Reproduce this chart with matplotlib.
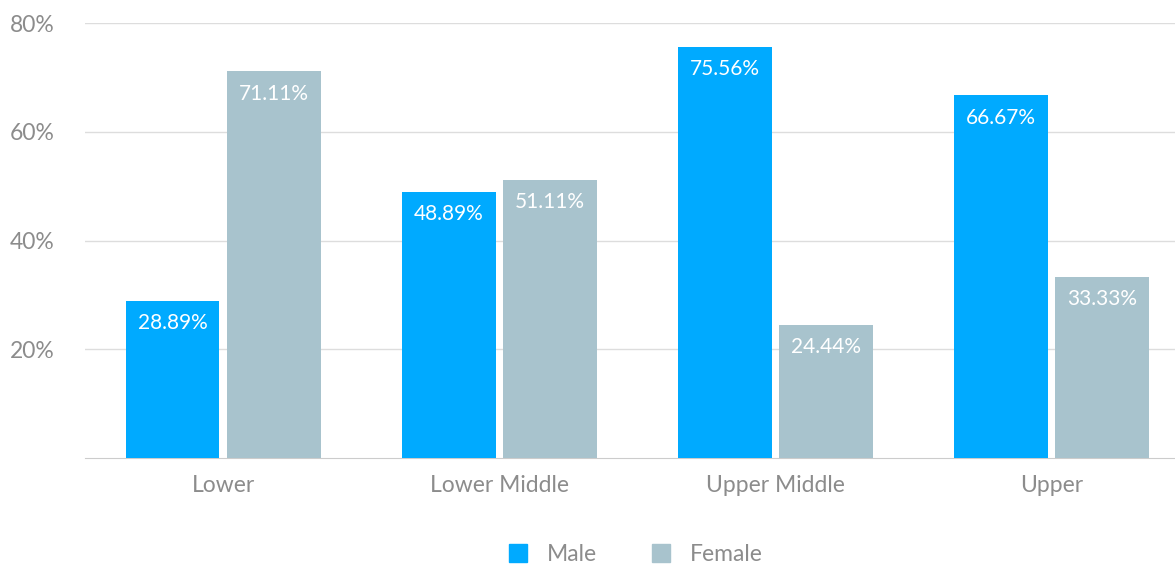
import matplotlib.pyplot as plt
import numpy as np
from matplotlib.patches import Patch

categories = ["Lower", "Lower Middle", "Upper Middle", "Upper"]
male = [28.89, 48.89, 75.56, 66.67]
female = [71.11, 51.11, 24.44, 33.33]
yticks = [20, 40, 60, 80]

MALE_COLOR = "#00AAFF"
FEMALE_COLOR = "#A8C3CD"
TEXT_COLOR = "#8C8C8C"

plt.rcParams["font.family"] = ["Lato", "DejaVu Sans"]

fig = plt.figure(figsize=(11.75, 5.67), dpi=100)
ax = fig.add_axes([85 / 1175, 109 / 567, 1090 / 1175, 435 / 567])

x = np.arange(len(categories))
offset = 0.183
width = 0.34
male_bars = ax.bar(x - offset, male, width, color=MALE_COLOR, zorder=3)
female_bars = ax.bar(x + offset, female, width, color=FEMALE_COLOR, zorder=3)

for bars, vals in ((male_bars, male), (female_bars, female)):
    for bar, v in zip(bars, vals):
        ax.annotate(f"{v:.2f}%", (bar.get_x() + bar.get_width() / 2, v),
                    xytext=(0, -16), textcoords="offset points",
                    ha="center", va="center", color="white", fontsize=15, zorder=4)

ax.set_xlim(-0.5, 3.447)
ax.set_ylim(0, 80)
ax.set_yticks(yticks)
ax.set_yticklabels([f"{t}%" for t in yticks])
ax.set_xticks(x)
ax.set_xticklabels(categories)
ax.tick_params(axis="both", length=0, colors=TEXT_COLOR, labelsize=16.5)
ax.tick_params(axis="x", pad=12)
for lbl in ax.get_yticklabels():
    lbl.set_horizontalalignment("left")
ax.yaxis.set_tick_params(pad=54)

ax.grid(axis="y", color="#DDDDDD", linewidth=1, zorder=0)
for side in ("top", "right", "left"):
    ax.spines[side].set_visible(False)
ax.spines["bottom"].set_color("#CCCCCC")
ax.set_axisbelow(True)

handles = [Patch(color=MALE_COLOR, label="Male"), Patch(color=FEMALE_COLOR, label="Female")]
fig.legend(handles=handles, loc="center", bbox_to_anchor=(0.541, 0.022), ncol=2,
           frameon=False, fontsize=16.5, handlelength=0.8, handleheight=0.8,
           columnspacing=2.4, handletextpad=0.85, labelcolor=TEXT_COLOR)

fig.savefig("out.png", dpi=100)
